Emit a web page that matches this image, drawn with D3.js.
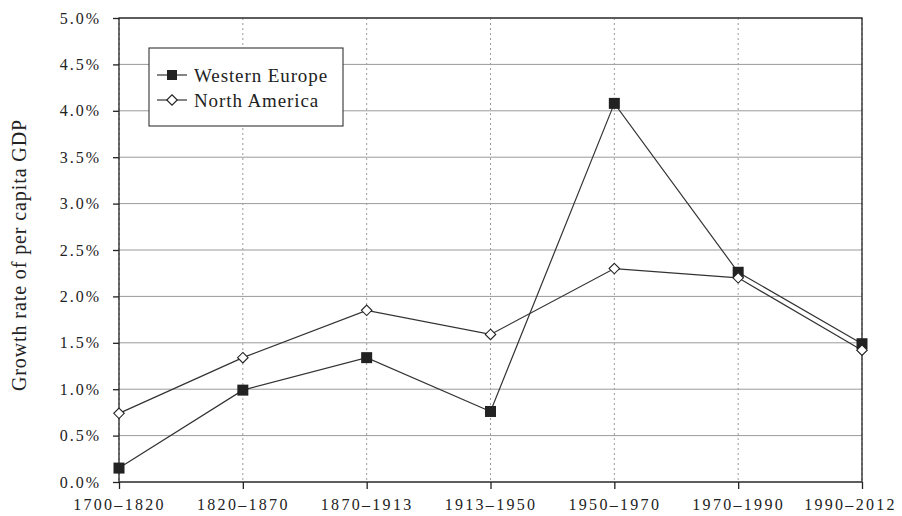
<!DOCTYPE html>
<html>
<head>
<meta charset="utf-8">
<script src="https://cdn.jsdelivr.net/npm/d3@7"></script>
<style>
  html, body { margin: 0; padding: 0; background: #fff; }
  svg text { font-family: "Liberation Serif", "DejaVu Serif", serif; fill: #222; }
</style>
</head>
<body>
<svg id="chart" width="902" height="516"></svg>
<script>
// ── DATA ──
const periods = ['1700–1820', '1820–1870', '1870–1913', '1913–1950', '1950–1970', '1970–1990', '1990–2012'];
const westernEurope = [0.15, 0.99, 1.34, 0.76, 4.08, 2.26, 1.49];
const northAmerica  = [0.74, 1.34, 1.85, 1.59, 2.30, 2.20, 1.42];
const yTicks = [0, 0.5, 1, 1.5, 2, 2.5, 3, 3.5, 4, 4.5, 5];

const svg = d3.select('#chart');
const m = { left: 119, right: 40, top: 18, bottom: 34 };
const W = 902, H = 516;

const x = d3.scalePoint().domain(periods).range([m.left, W - m.right]).padding(0);
const y = d3.scaleLinear().domain([0, 5]).range([H - m.bottom, m.top]);

// grid
const grid = svg.append('g');
grid.selectAll('line.h').data(yTicks).enter().append('line')
  .attr('x1', m.left).attr('x2', W - m.right)
  .attr('y1', d => y(d)).attr('y2', d => y(d))
  .attr('stroke', '#9a9a9a').attr('stroke-width', 1);
grid.selectAll('line.v').data(periods).enter().append('line')
  .attr('x1', d => x(d)).attr('x2', d => x(d))
  .attr('y1', m.top).attr('y2', H - m.bottom)
  .attr('stroke', '#9a9a9a').attr('stroke-width', 1).attr('stroke-dasharray', '2,3');

// frame
svg.append('rect')
  .attr('x', m.left).attr('y', m.top)
  .attr('width', W - m.right - m.left).attr('height', H - m.bottom - m.top)
  .attr('fill', 'none').attr('stroke', '#222').attr('stroke-width', 1.3);

// axes
const yAxis = svg.append('g').attr('transform', `translate(${m.left},0)`)
  .call(d3.axisLeft(y).tickValues(yTicks).tickSize(6).tickPadding(12)
    .tickFormat(d => d3.format('.1f')(d) + '%'));
const xAxis = svg.append('g').attr('transform', `translate(0,${H - m.bottom})`)
  .call(d3.axisBottom(x).tickSize(7).tickPadding(10));
[yAxis, xAxis].forEach(a => {
  a.select('.domain').remove();
  a.selectAll('.tick line').attr('stroke', '#222').attr('stroke-width', 1.3);
  a.selectAll('text').attr('font-size', '16px').attr('fill', '#222');
});
yAxis.selectAll('text').style('letter-spacing', '2px');
xAxis.selectAll('text').style('letter-spacing', '2.3px');
// last label pulled in so it stays on the page
xAxis.selectAll('.tick text').filter(d => d === periods[periods.length - 1]).attr('dx', -12);

// y label
svg.append('text')
  .attr('transform', `translate(26,${(m.top + H - m.bottom) / 2 + 5}) rotate(-90)`)
  .attr('text-anchor', 'middle')
  .attr('font-size', '20px')
  .style('letter-spacing', '0.9px')
  .text('Growth rate of per capita GDP');

// lines
const line = d3.line().x((d, i) => x(periods[i])).y(d => y(d));
[westernEurope, northAmerica].forEach(s => {
  svg.append('path').datum(s).attr('d', line)
    .attr('fill', 'none').attr('stroke', '#333').attr('stroke-width', 1.2);
});

// markers
svg.selectAll('rect.we').data(westernEurope).enter().append('rect')
  .attr('x', (d, i) => x(periods[i]) - 5.5).attr('y', d => y(d) - 5.5)
  .attr('width', 11).attr('height', 11).attr('fill', '#222');
const diamond = d3.symbol().type(d3.symbolDiamond2).size(70);
svg.selectAll('path.na').data(northAmerica).enter().append('path')
  .attr('d', diamond)
  .attr('transform', (d, i) => `translate(${x(periods[i])},${y(d)})`)
  .attr('fill', '#fff').attr('stroke', '#222').attr('stroke-width', 1.1);

// legend
const lg = svg.append('g').attr('transform', 'translate(149,48)');
lg.append('rect').attr('width', 194).attr('height', 78)
  .attr('fill', '#fff').attr('stroke', '#333').attr('stroke-width', 1.1);
const items = [['Western Europe', 'sq'], ['North America', 'di']];
items.forEach((it, i) => {
  const cy = 27 + i * 25;
  lg.append('line').attr('x1', 8).attr('x2', 38).attr('y1', cy).attr('y2', cy)
    .attr('stroke', '#333').attr('stroke-width', 1.2);
  if (it[1] === 'sq') {
    lg.append('rect').attr('x', 23 - 5).attr('y', cy - 5).attr('width', 10).attr('height', 10).attr('fill', '#222');
  } else {
    lg.append('path').attr('d', diamond).attr('transform', `translate(23,${cy})`)
      .attr('fill', '#fff').attr('stroke', '#222').attr('stroke-width', 1.1);
  }
  lg.append('text').attr('x', 45).attr('y', cy).attr('dy', '0.35em')
    .attr('font-size', '19px').style('letter-spacing', '0.9px').text(it[0]);
});
</script>
</body>
</html>
